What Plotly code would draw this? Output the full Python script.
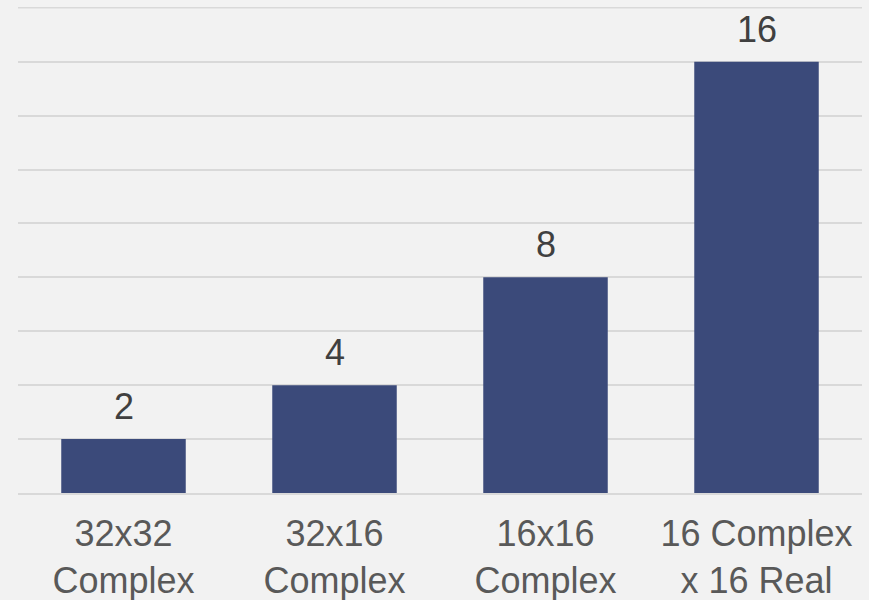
import plotly.graph_objects as go

categories = ["32x32<br>Complex", "32x16<br>Complex", "16x16<br>Complex", "16 Complex<br>x 16 Real"]
values = [2, 4, 8, 16]
labels = ["2", "4", "8", "16"]

bar_color = "#3B4A7A"
bg = "#F2F2F2"
grid_color = "#D9D9D9"
font_family = "Liberation Sans, Arial, sans-serif"
y_max = 18

fig = go.Figure()
fig.add_trace(go.Bar(x=categories, y=values, marker=dict(color=bar_color, line=dict(width=0)), hoverinfo="skip"))

for c, v, t in zip(categories, values, labels):
    fig.add_annotation(x=c, y=v, text=t, showarrow=False, yanchor="bottom", yshift=10,
                       font=dict(family=font_family, size=36, color="#404040"))

# top gridline (plotly hides gridline at the plot edge)
fig.add_shape(type="line", xref="paper", yref="y", x0=0, x1=1, y0=y_max, y1=y_max,
              line=dict(color=grid_color, width=1.5), layer="below")

fig.update_layout(
    width=869, height=600,
    margin=dict(l=18, r=7, t=7, b=107),
    paper_bgcolor=bg, plot_bgcolor=bg,
    bargap=0.41,
    showlegend=False,
    font=dict(family=font_family, size=36, color="#595959"),
)
fig.update_xaxes(showgrid=False, showline=True, linecolor=grid_color, linewidth=1.5,
                 ticks="", tickfont=dict(size=36, color="#595959"), ticklabelstandoff=8,
                 automargin=False)
fig.update_yaxes(range=[0, y_max + 0.03], dtick=2, showgrid=True, gridcolor=grid_color, gridwidth=1.5,
                 showticklabels=False, zeroline=False, ticks="", automargin=False)

fig.write_html("out.html")
